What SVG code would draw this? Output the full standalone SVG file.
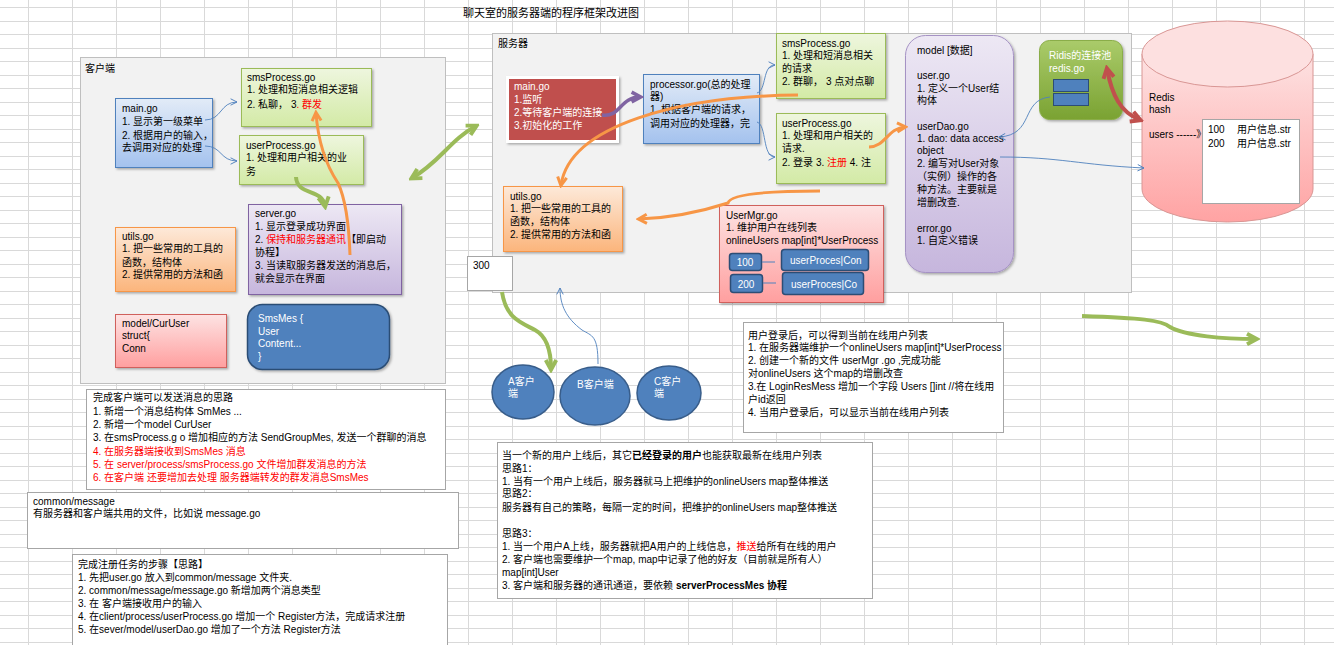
<svg xmlns="http://www.w3.org/2000/svg" width="1334" height="645" viewBox="0 0 1334 645">
<style>
.t{font-family:"Liberation Sans","Noto Sans CJK SC",sans-serif;font-size:10px;fill:#000}
.w{fill:#fff}
.r{fill:#ff0000}
.b{font-weight:bold}
.grid{stroke:#d9d9d9;stroke-width:1;fill:none}
.cont{fill:#f2f2f2;stroke:#bfbfbf;stroke-width:1}
.note{fill:#fff;stroke:#a6a6a6;stroke-width:1}
.thin{fill:none;stroke:#4f81bd;stroke-width:0.9}
.green{fill:none;stroke:#9bbb59;stroke-width:4}
.orange{fill:none;stroke:#f79646;stroke-width:3}
.purple{fill:none;stroke:#8064a2;stroke-width:3.5}
.red{fill:none;stroke:#c0504d;stroke-width:4}
.ib{fill:#4f81bd;stroke:#2c4d75;stroke-width:1.5}
.circ{fill:#4f81bd;stroke:#385d8a;stroke-width:1.5}
</style>
<defs>
<linearGradient id="gBlue" x1="0" y1="0" x2="0" y2="1"><stop offset="0" stop-color="#e2ebf7"/><stop offset="1" stop-color="#a4c2ee"/></linearGradient>
<linearGradient id="gGreen" x1="0" y1="0" x2="0" y2="1"><stop offset="0" stop-color="#eef6de"/><stop offset="1" stop-color="#d3eaa6"/></linearGradient>
<linearGradient id="gPurple" x1="0" y1="0" x2="0" y2="1"><stop offset="0" stop-color="#ede8f4"/><stop offset="1" stop-color="#c6b6dd"/></linearGradient>
<linearGradient id="gOrange" x1="0" y1="0" x2="0" y2="1"><stop offset="0" stop-color="#fde9d9"/><stop offset="1" stop-color="#fbb57c"/></linearGradient>
<linearGradient id="gPink" x1="0" y1="0" x2="0" y2="1"><stop offset="0" stop-color="#fde3e3"/><stop offset="1" stop-color="#ff9f9f"/></linearGradient>
<linearGradient id="gOlive" x1="0" y1="0" x2="0" y2="1"><stop offset="0" stop-color="#aacb6a"/><stop offset="1" stop-color="#7aa232"/></linearGradient>
<linearGradient id="gCyl" x1="0" y1="0" x2="0" y2="1"><stop offset="0" stop-color="#fde2e2"/><stop offset="1" stop-color="#ffa3a3"/></linearGradient>
<filter id="sh" x="-10%" y="-10%" width="130%" height="130%"><feDropShadow dx="1.5" dy="1.5" stdDeviation="1" flood-color="#000" flood-opacity="0.3"/></filter>
<marker id="mB" viewBox="0 0 10 10" refX="9" refY="5" markerWidth="8" markerHeight="8" markerUnits="userSpaceOnUse" orient="auto"><path d="M1,1 L9,5 L1,9" fill="none" stroke="#4f81bd" stroke-width="1.2"/></marker>
<marker id="mG" viewBox="0 0 10 10" refX="7.5" refY="5" markerWidth="15" markerHeight="15" markerUnits="userSpaceOnUse" orient="auto-start-reverse"><path d="M1.5,1.5 L8,5 L1.5,8.5" fill="none" stroke="#9bbb59" stroke-width="2.6"/></marker>
<marker id="mO" viewBox="0 0 10 10" refX="7.5" refY="5" markerWidth="13" markerHeight="13" markerUnits="userSpaceOnUse" orient="auto"><path d="M1.5,1.5 L8,5 L1.5,8.5" fill="none" stroke="#f79646" stroke-width="2.3"/></marker>
<marker id="mP" viewBox="0 0 10 10" refX="7.5" refY="5" markerWidth="14" markerHeight="14" markerUnits="userSpaceOnUse" orient="auto"><path d="M1.5,1.5 L8,5 L1.5,8.5" fill="none" stroke="#8064a2" stroke-width="2.5"/></marker>
<marker id="mR" viewBox="0 0 10 10" refX="7.5" refY="5" markerWidth="15" markerHeight="15" markerUnits="userSpaceOnUse" orient="auto-start-reverse"><path d="M1.5,1.5 L8,5 L1.5,8.5" fill="none" stroke="#c0504d" stroke-width="2.6"/></marker>
</defs>

<rect x="0" y="0" width="1334" height="645" fill="#fff"/>
<path class="grid" d="M0 7.5H1334M0 21.5H1334M0 34.5H1334M0 48.5H1334M0 61.5H1334M0 75.5H1334M0 88.5H1334M0 102.5H1334M0 115.5H1334M0 129.5H1334M0 142.5H1334M0 156.5H1334M0 169.5H1334M0 183.5H1334M0 196.5H1334M0 210.5H1334M0 223.5H1334M0 237.5H1334M0 250.5H1334M0 264.5H1334M0 277.5H1334M0 291.5H1334M0 304.5H1334M0 318.5H1334M0 331.5H1334M0 345.5H1334M0 358.5H1334M0 372.5H1334M0 385.5H1334M0 399.5H1334M0 412.5H1334M0 426.5H1334M0 439.5H1334M0 453.5H1334M0 466.5H1334M0 480.5H1334M0 493.5H1334M0 507.5H1334M0 520.5H1334M0 534.5H1334M0 547.5H1334M0 561.5H1334M0 574.5H1334M0 588.5H1334M0 601.5H1334M0 615.5H1334M0 628.5H1334M0 642.5H1334"/>
<path class="grid" d="M28.5 0V645M72.5 0V645M116.5 0V645M160.5 0V645M204.5 0V645M248.5 0V645M292.5 0V645M336.5 0V645M380.5 0V645M424.5 0V645M468.5 0V645M512.5 0V645M556.5 0V645M600.5 0V645M644.5 0V645M688.5 0V645M732.5 0V645M776.5 0V645M820.5 0V645M864.5 0V645M908.5 0V645M952.5 0V645M996.5 0V645M1040.5 0V645M1084.5 0V645M1128.5 0V645M1172.5 0V645M1216.5 0V645M1260.5 0V645M1304.5 0V645"/>

<text class="t" x="463" y="17" style="font-size:11px">聊天室的服务器端的程序框架改进图</text>

<!-- client container -->
<g id="client">
<rect class="cont" x="80.5" y="57.5" width="365" height="326"/>
<text class="t" x="85" y="72">客户端</text>
</g>

<g id="c-main">
<rect x="115.5" y="98.5" width="97" height="69" fill="url(#gBlue)" stroke="#4f81bd" filter="url(#sh)"/>
<text class="t" x="122" y="112">main.go</text>
<text class="t" x="122" y="125">1. 显示第一级菜单</text>
<text class="t" x="122" y="139">2. 根据用户的输入，</text>
<text class="t" x="122" y="151">去调用对应的处理</text>
</g>

<g id="c-sms">
<rect x="241.5" y="68.5" width="130" height="58" fill="url(#gGreen)" stroke="#9bbb59" filter="url(#sh)"/>
<text class="t" x="247" y="81">smsProcess.go</text>
<text class="t" x="247" y="93">1. 处理和短消息相关逻辑</text>
<text class="t" x="247" y="108">2. 私聊，  3<tspan class="r">. 群发</tspan></text>
</g>

<g id="c-user">
<rect x="239.5" y="135.5" width="124" height="49" fill="url(#gGreen)" stroke="#9bbb59" filter="url(#sh)"/>
<text class="t" x="246" y="149">userProcess.go</text>
<text class="t" x="246" y="161">1. 处理和用户相关的业</text>
<text class="t" x="246" y="175">务</text>
</g>

<g id="c-server">
<rect x="248.5" y="204.5" width="153" height="90" fill="url(#gPurple)" stroke="#8064a2" filter="url(#sh)"/>
<text class="t" x="255" y="217">server.go</text>
<text class="t" x="255" y="230">1. 显示登录成功界面</text>
<text class="t" x="255" y="243">2. <tspan class="r">保持和服务器通讯</tspan>【即启动</text>
<text class="t" x="255" y="256">协程】</text>
<text class="t" x="255" y="269">3. 当读取服务器发送的消息后，</text>
<text class="t" x="255" y="282">就会显示在界面</text>
</g>

<g id="c-utils">
<rect x="115.5" y="227.5" width="120" height="64" fill="url(#gOrange)" stroke="#f79646" filter="url(#sh)"/>
<text class="t" x="122" y="240">utils.go</text>
<text class="t" x="122" y="252">1. 把一些常用的工具的</text>
<text class="t" x="122" y="266">函数，结构体</text>
<text class="t" x="122" y="278">2. 提供常用的方法和函</text>
</g>

<g id="c-curuser">
<rect x="115.5" y="314.5" width="111" height="53" fill="url(#gPink)" stroke="#d0605c" filter="url(#sh)"/>
<text class="t" x="122" y="327">model/CurUser</text>
<text class="t" x="122" y="339">struct{</text>
<text class="t" x="122" y="352">  Conn</text>
</g>

<g id="c-smsmes">
<rect x="247.5" y="304.5" width="142" height="65" rx="15" class="ib" filter="url(#sh)"/>
<text class="t w" x="258" y="322">SmsMes {</text>
<text class="t w" x="258" y="335">User</text>
<text class="t w" x="258" y="347">Content...</text>
<text class="t w" x="258" y="360">}</text>
</g>

<g id="n-client">
<rect class="note" x="86.5" y="389.5" width="359" height="100"/>
<text class="t" x="93" y="401">完成客户端可以发送消息的思路</text>
<text class="t" x="93" y="415">1. 新增一个消息结构体 SmMes ...</text>
<text class="t" x="93" y="428">2. 新增一个model   CurUser</text>
<text class="t" x="93" y="441">3. 在smsProcess.g o 增加相应的方法  SendGroupMes, 发送一个群聊的消息</text>
<text class="t r" x="93" y="455">4. 在服务器端接收到SmsMes 消息</text>
<text class="t r" x="93" y="468">5. 在 server/process/smsProcess.go 文件增加群发消息的方法</text>
<text class="t r" x="93" y="481">6. 在客户端 还要增加去处理 服务器端转发的群发消息SmsMes</text>
</g>

<g id="n-common">
<rect class="note" x="27.5" y="492.5" width="431" height="56"/>
<text class="t" x="33" y="505">common/message</text>
<text class="t" x="33" y="517">有服务器和客户端共用的文件，比如说 message.go</text>
</g>

<g id="n-register">
<rect class="note" x="72.5" y="554.5" width="375" height="100"/>
<text class="t" x="78" y="568">完成注册任务的步骤【思路】</text>
<text class="t" x="78" y="581">1. 先把user.go 放入到common/message 文件夹.</text>
<text class="t" x="78" y="594">2. common/message/message.go 新增加两个消息类型</text>
<text class="t" x="78" y="607">3.  在 客户端接收用户的输入</text>
<text class="t" x="78" y="620">4. 在client/process/userProcess.go 增加一个 Register方法，完成请求注册</text>
<text class="t" x="78" y="633">5. 在sever/model/userDao.go 增加了一个方法 Register方法</text>
</g>

<!-- server container -->
<g id="server">
<rect class="cont" x="492.5" y="33.5" width="639" height="259"/>
<text class="t" x="498" y="47">服务器</text>
</g>

<g id="s-main">
<rect x="507.5" y="77.5" width="110" height="64" fill="#c0504d" stroke="#fff" stroke-width="3" filter="url(#sh)"/>
<text class="t w" x="514" y="90">main.go</text>
<text class="t w" x="514" y="103">1.监听</text>
<text class="t w" x="514" y="116">2.等待客户端的连接</text>
<text class="t w" x="514" y="129">3.初始化的工作</text>
</g>

<g id="s-processor">
<rect x="643.5" y="74.5" width="116" height="69" fill="url(#gBlue)" stroke="#4f81bd" filter="url(#sh)"/>
<text class="t" x="650" y="88">processor.go(总的处理</text>
<text class="t" x="650" y="100">器)</text>
<text class="t" x="650" y="113">1. 根据客户端的请求，</text>
<text class="t" x="650" y="127">调用对应的处理器，完</text>
</g>

<g id="s-sms">
<rect x="776.5" y="33.5" width="109" height="65" fill="url(#gGreen)" stroke="#9bbb59" filter="url(#sh)"/>
<text class="t" x="782" y="47">smsProcess.go</text>
<text class="t" x="782" y="59">1. 处理和短消息相关</text>
<text class="t" x="782" y="72">的请求</text>
<text class="t" x="782" y="85">2. 群聊，  3 点对点聊</text>
</g>

<g id="s-user">
<rect x="776.5" y="113.5" width="109" height="70" fill="url(#gGreen)" stroke="#9bbb59" filter="url(#sh)"/>
<text class="t" x="782" y="127">userProcess.go</text>
<text class="t" x="782" y="139">1. 处理和用户相关的</text>
<text class="t" x="782" y="152">请求.</text>
<text class="t" x="782" y="166">2. 登录 3. <tspan class="r">注册</tspan> 4. 注</text>
</g>

<g id="s-utils">
<rect x="503.5" y="186.5" width="119" height="65" fill="url(#gOrange)" stroke="#f79646" filter="url(#sh)"/>
<text class="t" x="510" y="200">utils.go</text>
<text class="t" x="510" y="212">1. 把一些常用的工具的</text>
<text class="t" x="510" y="225">函数，结构体</text>
<text class="t" x="510" y="238">2. 提供常用的方法和函</text>
</g>

<g id="s-model">
<rect x="905.5" y="35.5" width="108" height="237" rx="20" fill="url(#gPurple)" stroke="#a592c4" filter="url(#sh)"/>
<text class="t" x="917" y="54">model [数据]</text>
<text class="t" x="917" y="79">user.go</text>
<text class="t" x="917" y="92">1. 定义一个User结</text>
<text class="t" x="917" y="104">构体</text>
<text class="t" x="917" y="130">userDao.go</text>
<text class="t" x="917" y="142">1. dao: data access</text>
<text class="t" x="917" y="154">object</text>
<text class="t" x="917" y="167">2. 编写对User对象</text>
<text class="t" x="917" y="180">（实例）操作的各</text>
<text class="t" x="917" y="193">种方法。主要就是</text>
<text class="t" x="917" y="206">增删改查.</text>
<text class="t" x="917" y="232">error.go</text>
<text class="t" x="917" y="244">1. 自定义错误</text>
</g>

<g id="s-redispool">
<rect x="1039.5" y="40.5" width="83" height="79" rx="10" fill="url(#gOlive)" stroke="#8aad48" filter="url(#sh)"/>
<text class="t w" x="1049" y="59">Ridis的连接池</text>
<text class="t w" x="1049" y="72">redis.go</text>
<rect x="1053.5" y="79.5" width="35" height="12" fill="#4f81bd" stroke="#2c4d75"/>
<rect x="1053.5" y="93.5" width="35" height="12" fill="#4f81bd" stroke="#2c4d75"/>
</g>

<g id="s-usermgr">
<rect x="719.5" y="205.5" width="164" height="97" fill="url(#gPink)" stroke="#d0605c" filter="url(#sh)"/>
<text class="t" x="726" y="219">UserMgr.go</text>
<text class="t" x="726" y="231">1. 维护用户在线列表</text>
<text class="t" x="726" y="244">onlineUsers map[int]*UserProcess</text>
<rect class="ib" x="729.5" y="253.5" width="32" height="17" rx="3"/>
<text class="t w" x="745" y="266" text-anchor="middle">100</text>
<rect class="ib" x="730.5" y="274.5" width="32" height="18" rx="3"/>
<text class="t w" x="746" y="288" text-anchor="middle">200</text>
<rect class="ib" x="781.5" y="249.5" width="87" height="21" rx="3"/>
<text class="t w" x="790" y="264">userProces|Con</text>
<rect class="ib" x="782.5" y="272.5" width="81" height="22" rx="3"/>
<text class="t w" x="791" y="288">userProces|Co</text>
<path d="M762 262H775M763 283H776" stroke="#4f81bd" stroke-width="1" fill="none"/>
</g>

<g id="box300">
<rect class="note" x="467.5" y="256.5" width="45" height="34"/>
<text class="t" x="473" y="269">300</text>
</g>

<g id="clientA">
<ellipse class="circ" cx="523" cy="392" rx="31" ry="27"/>
<text class="t w" x="508" y="385">A客户</text>
<text class="t w" x="508" y="397">端</text>
</g>
<g id="clientB">
<ellipse class="circ" cx="595" cy="396" rx="35" ry="29"/>
<text class="t w" x="577" y="388">B客户端</text>
</g>
<g id="clientC">
<ellipse class="circ" cx="669" cy="393" rx="32" ry="27"/>
<text class="t w" x="654" y="385">C客户</text>
<text class="t w" x="654" y="397">端</text>
</g>

<g id="n-login">
<rect class="note" x="743.5" y="322.5" width="260" height="110"/>
<text class="t" x="748" y="339">用户登录后，可以得到当前在线用户列表</text>
<text class="t" x="748" y="351">1. 在服务器端维护一个onlineUsers  map[int]*UserProcess</text>
<text class="t" x="748" y="364">2. 创建一个新的文件 userMgr .go  ,完成功能</text>
<text class="t" x="748" y="377">对onlineUsers  这个map的增删改查</text>
<text class="t" x="748" y="390">3.在 LoginResMess 增加一个字段 Users  []int //将在线用</text>
<text class="t" x="748" y="403">户id返回</text>
<text class="t" x="748" y="416">4. 当用户登录后，可以显示当前在线用户列表</text>
</g>

<g id="n-online">
<rect class="note" x="497.5" y="442.5" width="375" height="156"/>
<text class="t" x="502" y="459">当一个新的用户上线后，其它<tspan class="b">已经登录的用户</tspan>也能获取最新在线用户列表</text>
<text class="t" x="502" y="472">思路1：</text>
<text class="t" x="502" y="485">1. 当有一个用户上线后，服务器就马上把维护的onlineUsers map整体推送</text>
<text class="t" x="502" y="497">思路2：</text>
<text class="t" x="502" y="511">服务器有自己的策略，每隔一定的时间，把维护的onlineUsers map整体推送</text>
<text class="t" x="502" y="537">思路3：</text>
<text class="t" x="502" y="550">1. 当一个用户A上线，服务器就把A用户的上线信息，<tspan class="r">推送</tspan>给所有在线的用户</text>
<text class="t" x="502" y="563">2. 客户端也需要维护一个map, map中记录了他的好友（目前就是所有人）</text>
<text class="t" x="502" y="576">map[int]User</text>
<text class="t" x="502" y="589">3. 客户端和服务器的通讯通道，要依赖 <tspan class="b">serverProcessMes 协程</tspan></text>
</g>

<g id="redis">
<path d="M1142 54V189A85.5 33 0 0 0 1313 189V54" fill="url(#gCyl)" stroke="#d99694"/>
<ellipse cx="1227.5" cy="54" rx="85.5" ry="33" fill="#fde0e0" stroke="#d99694"/>
<text class="t" x="1149" y="101">Redis</text>
<text class="t" x="1149" y="113">hash</text>
<text class="t" x="1149" y="138">users ------》</text>
<rect class="note" x="1202.5" y="119.5" width="97" height="84"/>
<text class="t" x="1208" y="133">100</text>
<text class="t" x="1237" y="133">用户信息.str</text>
<text class="t" x="1208" y="147">200</text>
<text class="t" x="1237" y="147">用户信息.str</text>
</g>

<g id="connectors">
<path class="thin" d="M205,120 C222,120 220,102 237,102" marker-end="url(#mB)"/>
<path class="thin" d="M205,146 C222,146 220,161 237,161" marker-end="url(#mB)"/>
<path class="green" d="M296,177 C297,196 322,188 325,206" marker-end="url(#mG)"/>
<path class="orange" d="M350,255 C349,225 346,200 338,183 C326,165 318,140 316,113" marker-end="url(#mO)"/>
<path class="green" d="M412,178 C440,162 450,140 476,126" marker-start="url(#mG)" marker-end="url(#mG)"/>
<path class="purple" d="M602,115 C620,118 620,97 640,97" marker-end="url(#mP)"/>
<path class="thin" d="M757,93 C767,90 762,65 775,65" marker-end="url(#mB)"/>
<path class="thin" d="M757,122 C767,125 762,157 775,157" marker-end="url(#mB)"/>
<path class="orange" d="M798,95 C680,96 570,125 561,185" marker-end="url(#mO)"/>
<path class="orange" d="M869,147 C885,147 888,128 905,127" marker-end="url(#mO)"/>
<path class="orange" d="M820,191 C770,191 730,194 728,203 C700,212 670,218 639,219" marker-end="url(#mO)"/>
<path class="thin" d="M1050,97 C1020,100 1035,135 999,137" marker-end="url(#mB)"/>
<path class="thin" d="M1000,157 C1060,157 1080,165 1144,168" marker-end="url(#mB)"/>
<path class="red" d="M1107,69 C1112,95 1120,112 1140,120" marker-start="url(#mR)" marker-end="url(#mR)"/>
<path class="green" d="M502,292 C506,318 520,322 535,330 C548,337 551,352 551,369" marker-end="url(#mG)"/>
<path class="thin" d="M598,364 C598,335 592,336 582,330 C566,318 560,305 560,288" marker-end="url(#mB)"/>
<path class="green" d="M1082,316 C1140,318 1162,320 1170,327 C1185,336 1225,339 1256,339" marker-end="url(#mG)"/>
</g>
</svg>
